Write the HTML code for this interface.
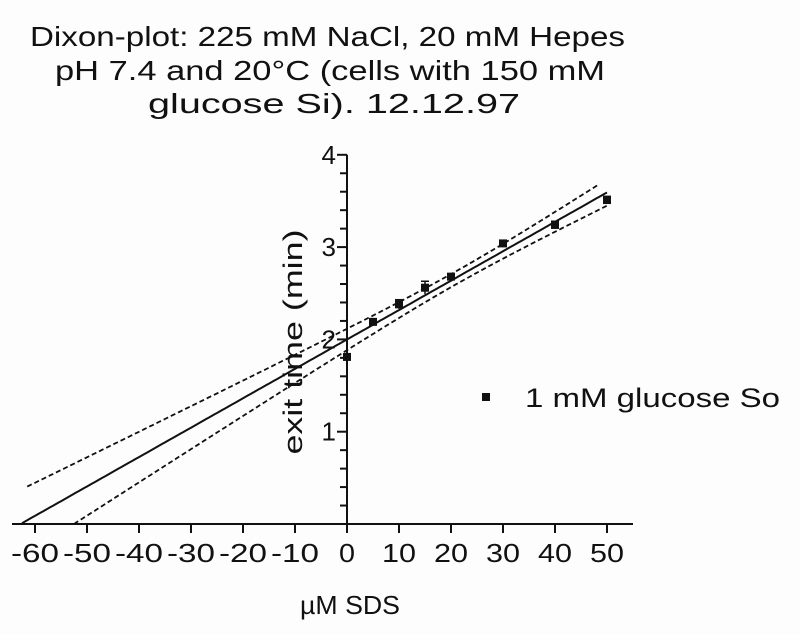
<!DOCTYPE html>
<html><head><meta charset="utf-8"><style>
html,body{margin:0;padding:0;background:#fff;}
svg{display:block;font-family:"Liberation Sans",Arial,sans-serif;}
</style></head><body>
<svg id="c" width="800" height="635" viewBox="0 0 800 635">
<rect width="800" height="635" fill="#fdfdfd"/>
<g font-size="28" fill="#111" lengthAdjust="spacingAndGlyphs">
<text x="30" y="46" textLength="595" lengthAdjust="spacingAndGlyphs">Dixon-plot: 225 mM NaCl, 20 mM Hepes</text>
<text x="55" y="80" textLength="550" lengthAdjust="spacingAndGlyphs">pH 7.4 and 20°C (cells with 150 mM</text>
<text x="148" y="113" textLength="372" lengthAdjust="spacingAndGlyphs">glucose Si). 12.12.97</text>
</g>
<g id="axes"></g>
<g id="marks"></g>
<text x="302" y="342" font-size="27" text-anchor="middle" fill="#111" textLength="225" lengthAdjust="spacingAndGlyphs" transform="rotate(-90 302 342)">exit time (min)</text>
<text x="300" y="614" font-size="26" fill="#111" textLength="100" lengthAdjust="spacingAndGlyphs">µM SDS</text>
<g>
<rect x="482" y="393" width="8" height="8" fill="#111"/>
<text x="525" y="407" font-size="27" fill="#111" textLength="255" lengthAdjust="spacingAndGlyphs">1 mM glucose So</text>
</g>
</svg>
<script>
const xValues=[0,5,10,15,20,30,40,50];
const yValues=[1.81,2.19,2.38,2.56,2.68,3.04,3.24,3.51];
const yErr=[0.02,0.03,0.05,0.07,0.03,0.03,0.04,0.04];
const xTicks=[-60,-50,-40,-30,-20,-10,0,10,20,30,40,50];
const yTicks=[1,2,3,4];
const bandK=0.2;
const NS="http://www.w3.org/2000/svg";
const sx=v=>347+v*5.2, sy=v=>524-v*92.3;
function mk(t,a,p){const e=document.createElementNS(NS,t);for(const k in a)e.setAttribute(k,a[k]);p.appendChild(e);return e;}
const ax=document.getElementById('axes'), mg=document.getElementById('marks');
let e=mk('line',{x1:12,x2:633,y1:sy(0),y2:sy(0),stroke:'#111','stroke-width':2},ax);


e=mk('line',{x1:sx(0),x2:sx(0),y1:sy(4),y2:sy(0),stroke:'#111','stroke-width':2},ax);


xTicks.forEach(t=>{
 mk('line',{x1:sx(t),x2:sx(t),y1:sy(0),y2:sy(0)+9,stroke:'#111','stroke-width':2},ax);
 const s=String(t);
 const tx=mk('text',{x:sx(t),y:562,'font-size':26,'text-anchor':'middle',fill:'#111',textLength:(t<0?48:(t===0?16:34)),lengthAdjust:'spacingAndGlyphs'},ax);tx.textContent=s;
 
 
});
for(let i=1;i<=20;i++){const v=i*0.2;const major=i%5===0;
 mk('line',{x1:sx(0)-(major?10:7),x2:sx(0),y1:sy(v),y2:sy(v),stroke:'#111','stroke-width':2},ax);}
yTicks.forEach(t=>{const tx=mk('text',{x:sx(0)-11,y:sy(t)+9,'font-size':26,'text-anchor':'end',fill:'#111'},ax);tx.textContent=t;
 
 });
const n=xValues.length, mx=xValues.reduce((a,b)=>a+b)/n, my=yValues.reduce((a,b)=>a+b)/n;
let sxx=0,sxy=0;xValues.forEach((x,i)=>{sxx+=(x-mx)**2;sxy+=(x-mx)*(yValues[i]-my);});
const b=sxy/sxx, a=my-b*mx;
const hw=x=>bandK*Math.sqrt(1/n+(x-mx)**2/sxx);
function curve(f,x0,x1,name,dash){let d='';let first=true;
 for(let x=x0;x<=x1+1e-9;x+=0.5){const y=f(x);if(y<0)continue;d+=(first?'M':'L')+sx(x).toFixed(1)+','+sy(y).toFixed(1);first=false;}
 const p=mk('path',{d:d,fill:'none',stroke:'#111','stroke-width':dash?1.8:2,'stroke-dasharray':dash?'5,3':'none'},mg);
 
 }
curve(x=>a+b*x,-65,50,'regression-line',false);
curve(x=>a+b*x+hw(x),-61.5,48.5,'upper-confidence-band',true);
curve(x=>a+b*x-hw(x),-65,50,'lower-confidence-band',true);
xValues.forEach((x,i)=>{const y=yValues[i];
 mk('line',{x1:sx(x),x2:sx(x),y1:sy(y+yErr[i]),y2:sy(y-yErr[i]),stroke:'#111','stroke-width':1.5},mg);
 mk('line',{x1:sx(x)-4,x2:sx(x)+4,y1:sy(y+yErr[i]),y2:sy(y+yErr[i]),stroke:'#111','stroke-width':1.5},mg);
 const r=mk('rect',{x:sx(x)-4,y:sy(y)-4,width:8,height:8,fill:'#111'},mg);
 
 
});
</script>
</body></html>
